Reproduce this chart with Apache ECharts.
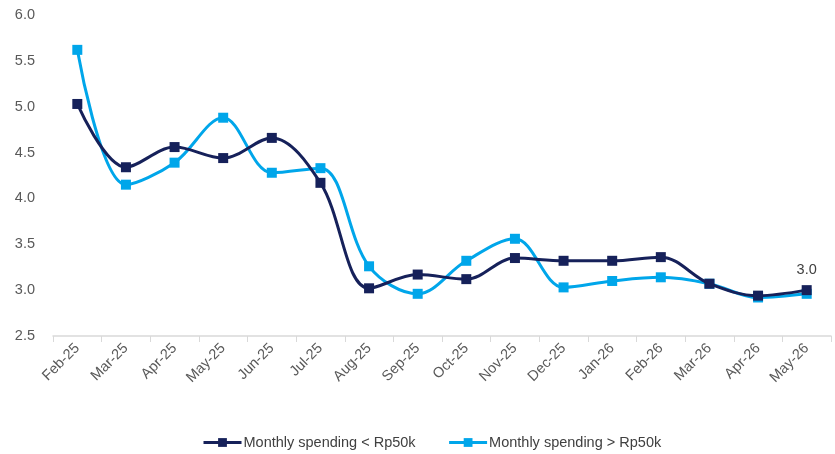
<!DOCTYPE html>
<html><head><meta charset="utf-8">
<script src="https://cdn.jsdelivr.net/npm/echarts@6/dist/echarts.min.js"></script>
<style>html,body{margin:0;padding:0;background:#fff}#c{width:835px;height:454px}</style>
</head><body><div id="c"></div>
<script>
const categories = ["Feb-25","Mar-25","Apr-25","May-25","Jun-25","Jul-25","Aug-25","Sep-25","Oct-25","Nov-25","Dec-25","Jan-26","Feb-26","Mar-26","Apr-26","May-26"];
const below50k = [5.03,4.34,4.56,4.44,4.66,4.17,3.02,3.17,3.12,3.35,3.32,3.32,3.36,3.07,2.94,3.00];
const above50k = [5.62,4.15,4.39,4.88,4.28,4.33,3.26,2.96,3.32,3.56,3.03,3.10,3.14,3.07,2.92,2.96];
const seriesNames = ["Monthly spending < Rp50k","Monthly spending > Rp50k"];
const colors = ["#16215a","#00a6ea"];
const font = "Liberation Sans, Arial, sans-serif";

const chart = echarts.init(document.getElementById('c'), null, {renderer:'canvas'});
function mk(name, data, color, z){
  return {
    name, type:'line', data, smooth:0.35, symbol:'rect', symbolSize:10, z,
    lineStyle:{color, width:3}, itemStyle:{color},
    label:{show:false},
    emphasis:{disabled:true}
  };
}
const s1 = mk(seriesNames[0], below50k.map((v,i)=> i===below50k.length-1 ? {value:v, label:{show:true, position:'top', distance:8, formatter:(p)=>p.value.toFixed(1), color:'#404040', fontSize:14.5, fontFamily:font}} : v), colors[0], 3);
const s2 = mk(seriesNames[1], above50k, colors[1], 2);
chart.setOption({
  animation:false,
  grid:{left:53, right:4, top:15, bottom:118, containLabel:false},
  legend:{
    top:430, left:197, itemWidth:38, itemHeight:11, itemGap:32,
    lineStyle:{width:3},
    textStyle:{fontFamily:font, fontSize:14.5, color:'#404040', padding:[0,0,0,-3]},
    data: seriesNames
  },
  xAxis:{
    type:'category', data:categories, boundaryGap:true,
    axisLine:{lineStyle:{color:'#d9d9d9', width:1.5}},
    axisTick:{show:true, length:6, lineStyle:{color:'#d9d9d9'}},
    axisLabel:{rotate:45, fontFamily:font, fontSize:14.5, color:'#595959', margin:10, interval:0}
  },
  yAxis:{
    type:'value', min:2.5, max:6, interval:0.5,
    axisLine:{show:false}, axisTick:{show:false}, splitLine:{show:false},
    axisLabel:{fontFamily:font, fontSize:14.5, color:'#595959', margin:18, formatter:v=>v.toFixed(1)}
  },
  series:[s1, s2]
});
</script></body></html>
